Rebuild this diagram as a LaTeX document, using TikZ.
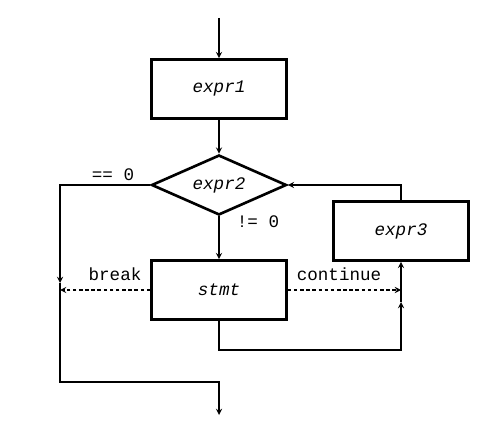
\documentclass[tikz,border=0pt]{standalone}
\usepackage{fontspec}
\setmonofont{Liberation Mono}
\usetikzlibrary{shapes.geometric}

\tikzset{
  box/.style={draw, line width=1.5pt, minimum width=2.7cm, minimum height=1.18cm, font=\ttfamily\itshape},
  cond/.style={draw, diamond, line width=1.5pt, aspect=2.25, minimum width=2.7cm, minimum height=1.2cm, inner sep=0pt, font=\ttfamily\itshape},
  flow/.style={-stealth, line width=0.6pt},
  jump/.style={flow, dash pattern=on 2pt off 1.5pt},
  lbl/.style={font=\ttfamily},
}

\begin{document}
\begin{tikzpicture}[x=0.02cm, y=-0.02cm]
  \useasboundingbox (0,0) rectangle (482,431);
  % boxes
  \node[box] (e1) at (219,89) {expr1};
  \node[cond] (e2) at (219,185) {expr2};
  \node[box] (st) at (219,290) {stmt};
  \node[box] (e3) at (401,231) {expr3};
  % points
  \coordinate (in) at (219,18);
  \coordinate (out) at (219,415);
  \coordinate (brk) at (60,283);
  \coordinate (low) at (60,382);
  \coordinate (bot) at (401,350);
  \coordinate (up) at (401,302);
  % main flow
  \draw[flow] (in) -- (e1);
  \draw[flow] (e1) -- (e2);
  \draw[flow] (e2) -- (st);
  \draw[flow] (e2.west) -| (brk);
  \draw[flow] (brk) -- (low) -| (out);
  \draw[flow] (st.south) |- (bot) -- (up);
  \draw[flow] (up) -- (e3.south);
  \draw[flow] (e3.north) |- (e2.east);
  % jumps
  \draw[jump] (st.west) -- (st.west -| low);
  \draw[jump] (st.east) -- (st.east -| bot);
  % labels
  \node[lbl] (eq) at (113,175) {== 0};
  \node[lbl] (ne) at (258,222) {!= 0};
  \node[lbl] (bk) at (115,274) {break};
  \node[lbl] (ct) at (339,274) {continue};
\end{tikzpicture}
\end{document}
